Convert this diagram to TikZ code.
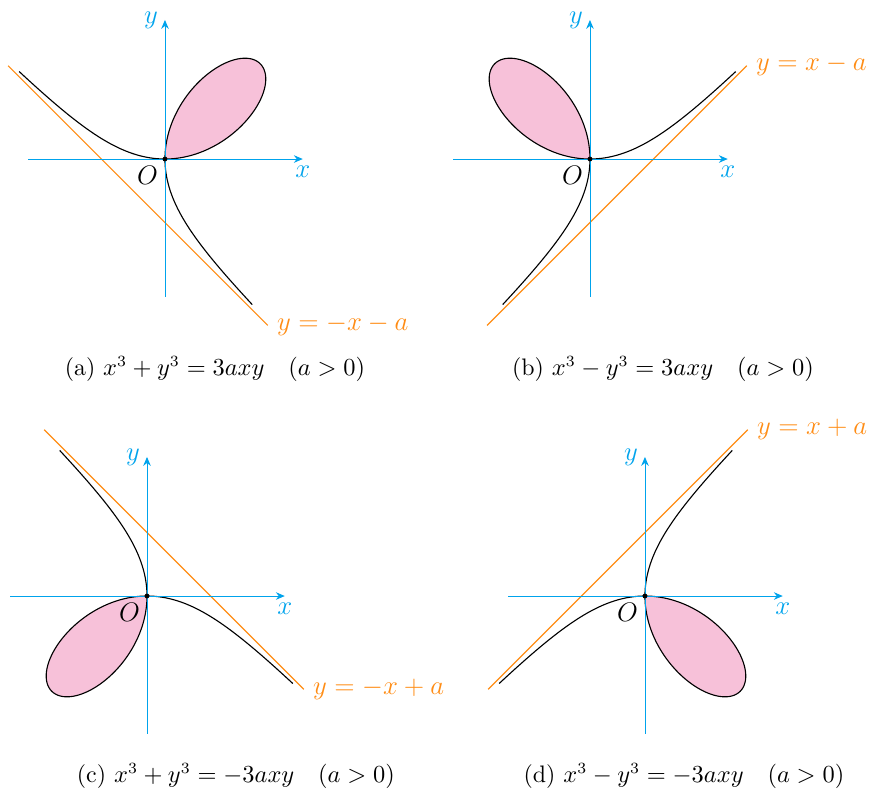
\documentclass[tikz,border=0pt]{standalone}
\usepackage{amsmath}
\definecolor{fxcyan}{RGB}{0,163,236}
\definecolor{fxorange}{RGB}{255,140,20}
\definecolor{fxpink}{RGB}{247,193,217}
\usetikzlibrary{arrows.meta,positioning}

\begin{document}
\begin{tikzpicture}[
  fxaxis/.style={-{Stealth[length=4pt,width=3.4pt]},fxcyan,line width=0.42pt},
  fxaxlab/.style={font=\fontsize{12.8}{15}\selectfont,text=fxcyan,inner sep=3pt},
  fxolab/.style={font=\fontsize{12.8}{15}\selectfont,below left,inner sep=3pt},
  fxcurve/.style={black,line width=0.5pt},
  fxloop/.style={draw=black,fill=fxpink,line width=0.5pt},
  fxasym/.style={fxorange,line width=0.5pt},
  fxasymlab/.style={right,font=\fontsize{12.8}{15}\selectfont,text=fxorange,inner sep=4pt},
  fxcap/.style={font=\fontsize{10.7}{13}\selectfont}
]
  \useasboundingbox (-2.598,-10.283) rectangle (11.465,2.504);
  % (a) x^3+y^3=3axy
  \begin{scope}[shift={(0,0)}]
    \begin{scope}[xscale=1,yscale=1]
      \filldraw[fxloop] plot[domain=0:1,samples=60] ({3*\x/(1+\x*\x*\x)},{3*\x*\x/(1+\x*\x*\x)})
        -- plot[domain=1:0,samples=60] ({3*\x*\x/(1+\x*\x*\x)},{3*\x/(1+\x*\x*\x)}) -- cycle;
      \draw[fxcurve] plot[domain=-0.6:0,samples=60] ({3*\x/(1+\x*\x*\x)},{3*\x*\x/(1+\x*\x*\x)})
        -- plot[domain=0:-0.6,samples=60] ({3*\x*\x/(1+\x*\x*\x)},{3*\x/(1+\x*\x*\x)});
      \coordinate (aA1) at (-2.47,1.47);
      \coordinate (aA2) at (1.62,-2.62);
    \end{scope}
    \draw[fxasym] (aA1) -- (aA2);
    \draw[fxaxis] (-2.15,0) -- (2.17,0) coordinate (aX);
    \draw[fxaxis] (0,-2.17) -- (0,2.19) coordinate (aY);
    \fill (0,0) coordinate (aO) circle (1.1pt);
    \node[fxaxlab,below] (aXl) at (aX) {$x$};
    \node[fxaxlab,left] (aYl) at (aY) {$y$};
    \node[fxolab] (aOl) at (aO) {$O$};
    \node[fxasymlab] (aAl) at (aA2) {$y=-x-a$};
  \end{scope}
  \node[fxcap] (acap) at (0.787,-3.307) {(a) $x^3+y^3=3axy\quad(a>0)$};
  % (b) x^3-y^3=3axy
  \begin{scope}[shift={(6.693,0)}]
    \begin{scope}[xscale=-1,yscale=1]
      \filldraw[fxloop] plot[domain=0:1,samples=60] ({3*\x/(1+\x*\x*\x)},{3*\x*\x/(1+\x*\x*\x)})
        -- plot[domain=1:0,samples=60] ({3*\x*\x/(1+\x*\x*\x)},{3*\x/(1+\x*\x*\x)}) -- cycle;
      \draw[fxcurve] plot[domain=-0.6:0,samples=60] ({3*\x/(1+\x*\x*\x)},{3*\x*\x/(1+\x*\x*\x)})
        -- plot[domain=0:-0.6,samples=60] ({3*\x*\x/(1+\x*\x*\x)},{3*\x/(1+\x*\x*\x)});
      \coordinate (bA1) at (-2.47,1.47);
      \coordinate (bA2) at (1.62,-2.62);
    \end{scope}
    \draw[fxasym] (bA2) -- (bA1);
    \draw[fxaxis] (-2.15,0) -- (2.17,0) coordinate (bX);
    \draw[fxaxis] (0,-2.17) -- (0,2.19) coordinate (bY);
    \fill (0,0) coordinate (bO) circle (1.1pt);
    \node[fxaxlab,below] (bXl) at (bX) {$x$};
    \node[fxaxlab,left] (bYl) at (bY) {$y$};
    \node[fxolab] (bOl) at (bO) {$O$};
    \node[fxasymlab] (bAl) at (bA1) {$y=x-a$};
  \end{scope}
  \node[fxcap] (bcap) at (7.843,-3.307) {(b) $x^3-y^3=3axy\quad(a>0)$};
  % (c) x^3+y^3=-3axy
  \begin{scope}[shift={(-0.283,-6.882)}]
    \begin{scope}[xscale=-1,yscale=-1]
      \filldraw[fxloop] plot[domain=0:1,samples=60] ({3*\x/(1+\x*\x*\x)},{3*\x*\x/(1+\x*\x*\x)})
        -- plot[domain=1:0,samples=60] ({3*\x*\x/(1+\x*\x*\x)},{3*\x/(1+\x*\x*\x)}) -- cycle;
      \draw[fxcurve] plot[domain=-0.6:0,samples=60] ({3*\x/(1+\x*\x*\x)},{3*\x*\x/(1+\x*\x*\x)})
        -- plot[domain=0:-0.6,samples=60] ({3*\x*\x/(1+\x*\x*\x)},{3*\x/(1+\x*\x*\x)});
      \coordinate (cA1) at (-2.47,1.47);
      \coordinate (cA2) at (1.62,-2.62);
    \end{scope}
    \draw[fxasym] (cA2) -- (cA1);
    \draw[fxaxis] (-2.15,0) -- (2.17,0) coordinate (cX);
    \draw[fxaxis] (0,-2.17) -- (0,2.19) coordinate (cY);
    \fill (0,0) coordinate (cO) circle (1.1pt);
    \node[fxaxlab,below] (cXl) at (cX) {$x$};
    \node[fxaxlab,left] (cYl) at (cY) {$y$};
    \node[fxolab] (cOl) at (cO) {$O$};
    \node[fxasymlab] (cAl) at (cA1) {$y=-x+a$};
  \end{scope}
  \node[fxcap] (ccap) at (1.118,-9.717) {(c) $x^3+y^3=-3axy\quad(a>0)$};
  % (d) x^3-y^3=-3axy
  \begin{scope}[shift={(7.559,-6.882)}]
    \begin{scope}[xscale=1,yscale=-1]
      \filldraw[fxloop] plot[domain=0:1,samples=60] ({3*\x/(1+\x*\x*\x)},{3*\x*\x/(1+\x*\x*\x)})
        -- plot[domain=1:0,samples=60] ({3*\x*\x/(1+\x*\x*\x)},{3*\x/(1+\x*\x*\x)}) -- cycle;
      \draw[fxcurve] plot[domain=-0.6:0,samples=60] ({3*\x/(1+\x*\x*\x)},{3*\x*\x/(1+\x*\x*\x)})
        -- plot[domain=0:-0.6,samples=60] ({3*\x*\x/(1+\x*\x*\x)},{3*\x/(1+\x*\x*\x)});
      \coordinate (dA1) at (-2.47,1.47);
      \coordinate (dA2) at (1.62,-2.62);
    \end{scope}
    \draw[fxasym] (dA1) -- (dA2);
    \draw[fxaxis] (-2.15,0) -- (2.17,0) coordinate (dX);
    \draw[fxaxis] (0,-2.17) -- (0,2.19) coordinate (dY);
    \fill (0,0) coordinate (dO) circle (1.1pt);
    \node[fxaxlab,below] (dXl) at (dX) {$x$};
    \node[fxaxlab,left] (dYl) at (dY) {$y$};
    \node[fxolab] (dOl) at (dO) {$O$};
    \node[fxasymlab] (dAl) at (dA2) {$y=x+a$};
  \end{scope}
  \node[fxcap] (dcap) at (8.173,-9.717) {(d) $x^3-y^3=-3axy\quad(a>0)$};
\end{tikzpicture}
\end{document}
